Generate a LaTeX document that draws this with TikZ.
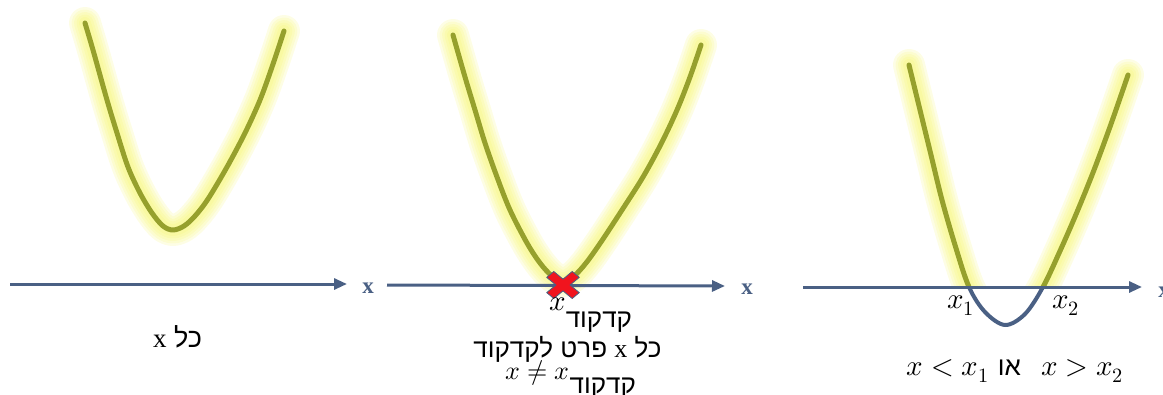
\documentclass[tikz,border=0pt]{standalone}
\usepackage{fontspec}
\usepackage{unicode-math}
\setmainfont{Liberation Serif}
\setmathfont{Latin Modern Math}
\newfontfamily\heb[Script=Hebrew]{Liberation Sans}
\TeXXeTstate=1
\usetikzlibrary{arrows.meta}
\definecolor{axisblue}{RGB}{74,96,132}
\definecolor{curveolive}{RGB}{150,160,45}
\definecolor{glowyellow}{RGB}{245,245,95}
\definecolor{xred}{RGB}{240,20,30}
\tikzset{
  glow/.style={draw=glowyellow, opacity=0.16, line cap=round, line join=round},
  curve/.style={draw=curveolive, line width=5pt, line cap=round, line join=round},
  axisline/.style={draw=axisblue, line width=3pt, -{Triangle[length=13pt,width=11pt]}},
  axlabel/.style={text=axisblue, font=\fontsize{23}{26}\selectfont\bfseries, inner sep=0pt},
  txt/.style={font=\fontsize{26}{30}\selectfont, inner sep=0pt},
}
\newcommand{\mth}[1]{{\fontsize{29}{32}\selectfont$#1$}}
\newcommand{\mths}[1]{{\fontsize{26}{30}\selectfont$#1$}}
\newcommand{\glowplot}[1]{%
  \foreach \gw in {32,27,22,17,12}{%
    \draw[glow, line width=\gw pt] plot[smooth,tension=0.55] coordinates {#1};}%
  \draw[curve] plot[smooth,tension=0.55] coordinates {#1};}
\begin{document}
\begin{tikzpicture}[x=1pt,y=-1pt]
\useasboundingbox (0,0) rectangle (1163,394);
% ---- panel 1
\glowplot{(85,23) (93,50) (107,100) (117,133) (128,167) (140,193) (152,213) (163,226) (173,230) (184,226) (195,216) (208,199) (227,167) (245,133) (260,100) (272,67) (284,31)}
\coordinate (a1s) at (10,284);
\coordinate (a1e) at (347,284);
\draw[axisline] (a1s) -- (a1e);
\node[axlabel] (l1) at (368,288) {x};
\node[txt, anchor=base, font=\fontsize{27}{30}\selectfont] (t1) at (177.5,347) {\heb\beginR כל {\rmfamily x}\endR};
% ---- panel 2
\glowplot{(453,35) (465,77) (475,110) (485,143) (497,177) (510,210) (527,243) (540,263) (552,276) (563,281) (574,276) (586,263) (601,242) (622,210) (643,177) (661,144) (677,110) (690,77) (701,45)}
\coordinate (a2s) at (387,285);
\coordinate (a2e) at (725,286);
\draw[axisline] (a2s) -- (a2e);
\node[axlabel] (l2) at (747,289) {x};
\begin{scope}[shift={(563,285)}, yscale=0.83]
  \begin{scope}[rotate=45]
    \filldraw[fill=xred, draw=axisblue, line width=0.8pt]
      (5,18)--(5,5)--(18,5)--(18,-5)--(5,-5)--(5,-18)--(-5,-18)--(-5,-5)--(-18,-5)--(-18,5)--(-5,5)--(-5,18)--cycle;
  \end{scope}
\end{scope}
\node[txt, anchor=base west] (t2a) at (549,310) {\mth{x}\raisebox{-17pt}{\heb\beginR קדקוד\endR}};
\node[txt, anchor=base] (t2b) at (567.5,357) {\heb\beginR כל {\rmfamily x} פרט לקדקוד\endR};
\node[txt, anchor=base west] (t2c) at (505,379) {\mths{x \neq x}\raisebox{-14pt}{\heb\beginR קדקוד\endR}};
% ---- panel 3
\begin{scope}
  \clip (790,0) rectangle (1163,287);
  \glowplot{(909,65) (920,110) (931,155) (942,200) (955,245) (969,287) (985,312) (1005,325) (1025,314) (1043,287) (1060,251) (1077,212) (1094,170) (1111,124) (1128,75)}
\end{scope}
\begin{scope}
  \clip (790,287) rectangle (1163,394);
  \draw[curve, draw=axisblue, line width=4pt] plot[smooth,tension=0.55] coordinates {(909,65) (920,110) (931,155) (942,200) (955,245) (969,287) (985,312) (1005,325) (1025,314) (1043,287) (1060,251) (1077,212) (1094,170) (1111,124) (1128,75)};
\end{scope}
\coordinate (a3s) at (803,287);
\coordinate (a3e) at (1142,287);
\draw[axisline] (a3s) -- (a3e);
\node[axlabel] (l3) at (1164,292) {x};
\node[txt, anchor=base west] (x1) at (947,308) {\mth{x_1}};
\node[txt, anchor=base west] (x2) at (1052,308) {\mth{x_2}};
\node[txt, anchor=base] (t3) at (1015,375) {\mth{x<x_1}\hspace{9pt}{\heb\beginR או\endR}\hspace{20pt}\mth{x>x_2}};
\end{tikzpicture}
\end{document}
